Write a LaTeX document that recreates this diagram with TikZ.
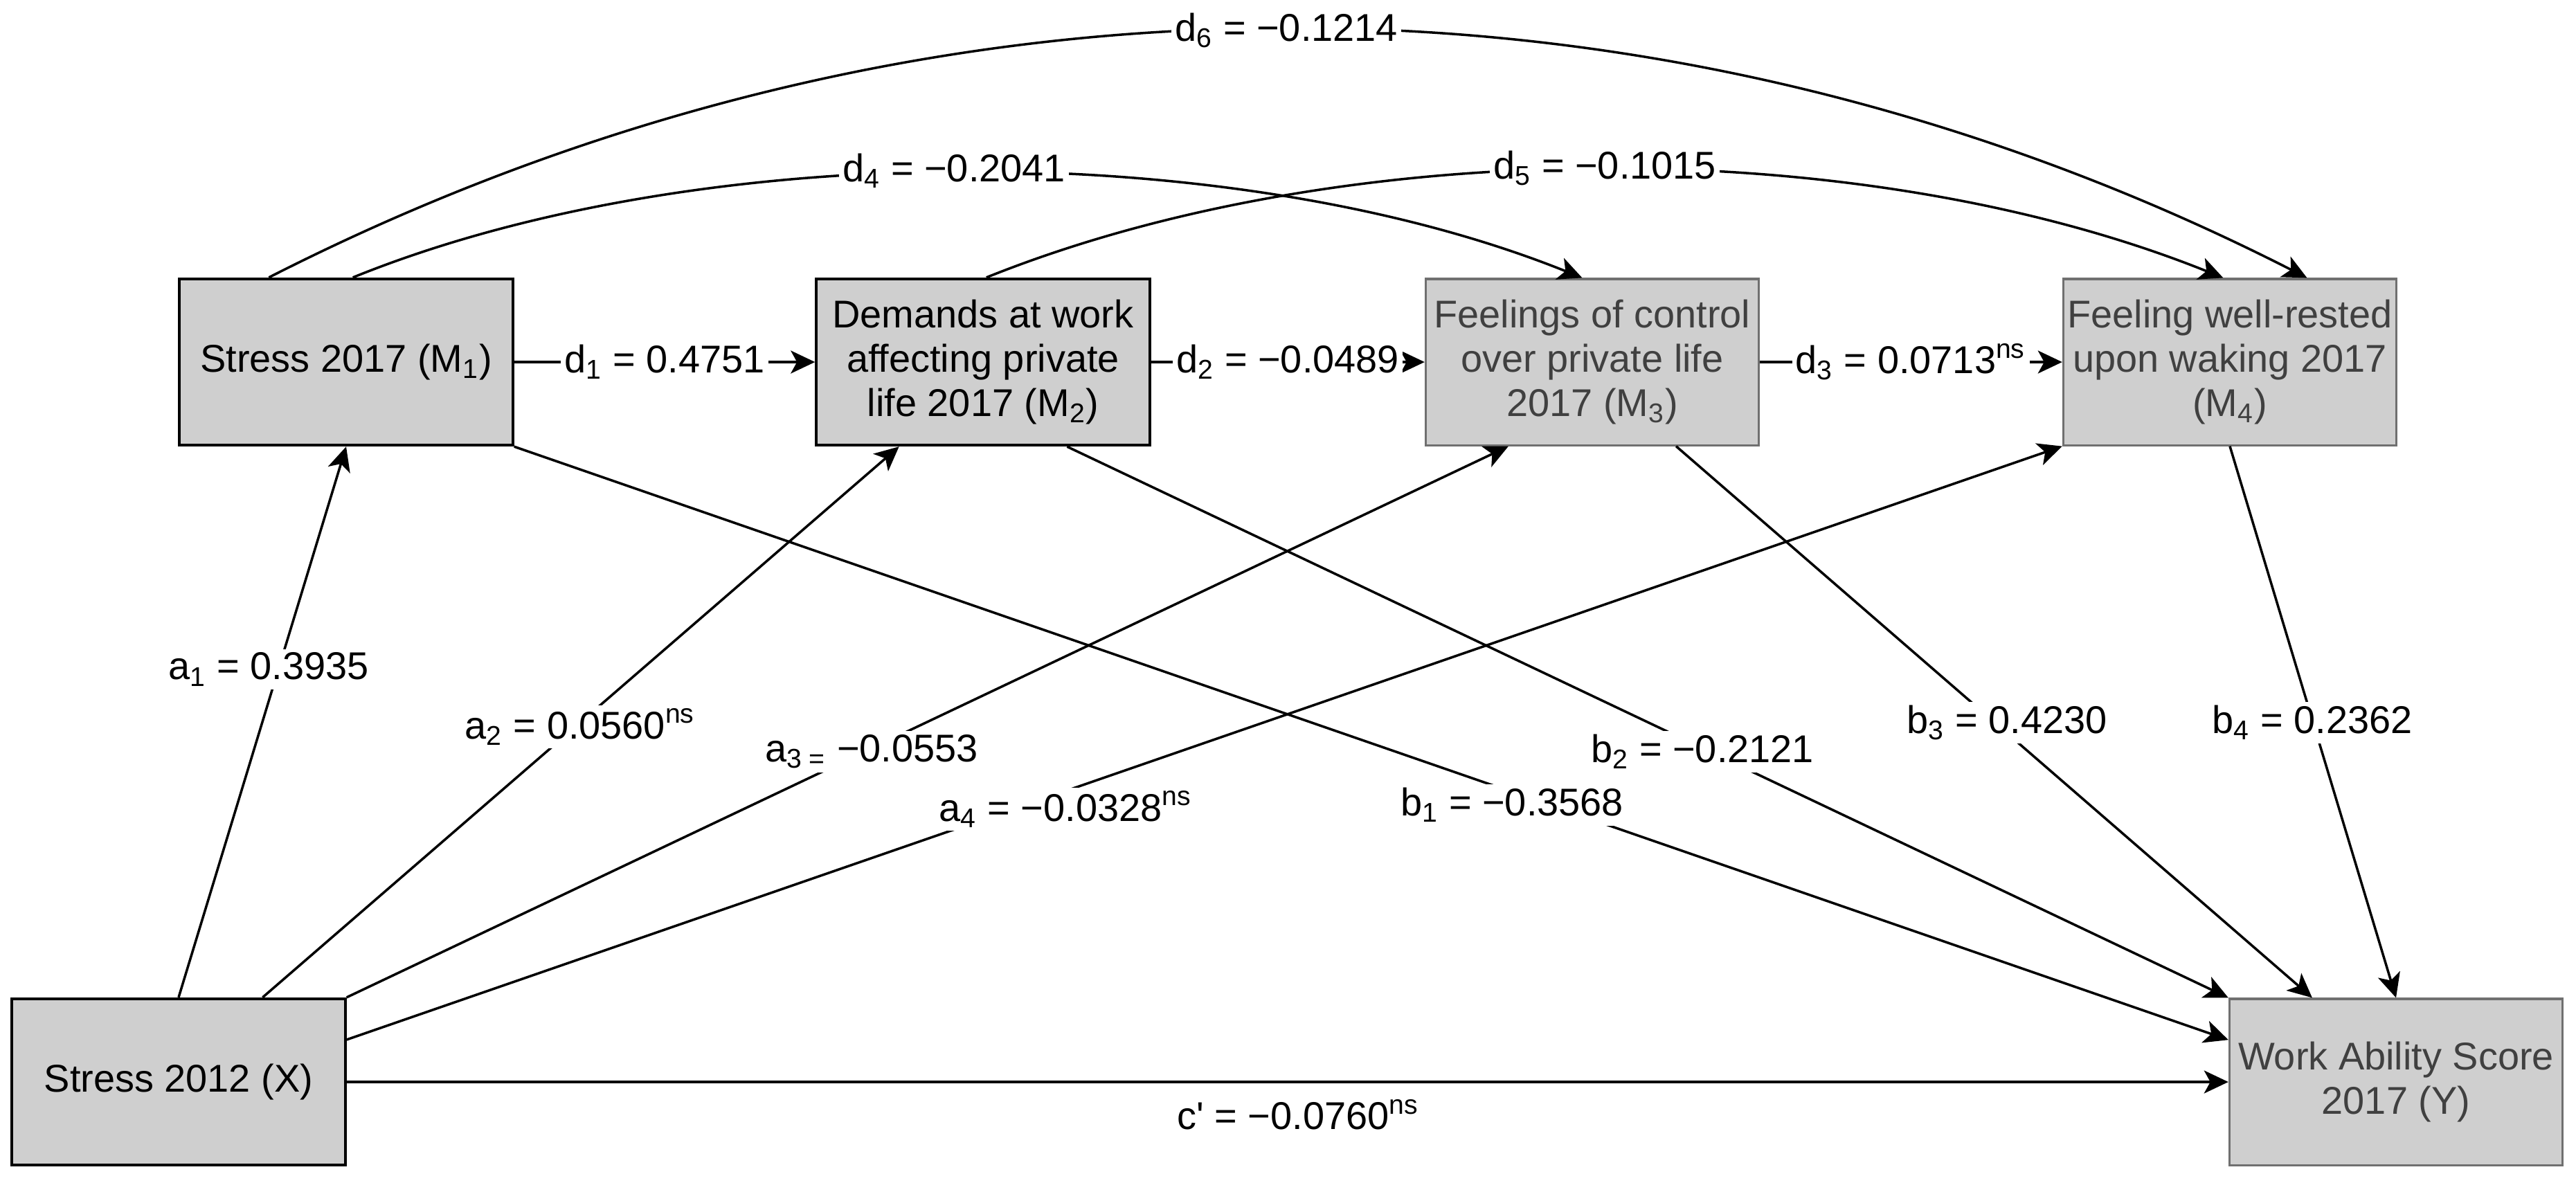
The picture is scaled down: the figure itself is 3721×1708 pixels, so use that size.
\documentclass[tikz,border=0pt]{standalone}
\usepackage{fontspec}
\setmainfont{Liberation Sans}[Ligatures=TeXOff]
\usetikzlibrary{arrows.meta,calc}
\definecolor{boxfill}{HTML}{CFCFCF}
\definecolor{greyline}{HTML}{707070}
\definecolor{greytext}{HTML}{404040}
\begin{document}
\begin{tikzpicture}[x=0.01cm,y=-0.01cm,
  every node/.style={font=\fontsize{15.9pt}{18.3pt}\selectfont},
  blackbox/.style={draw=black, line width=1.2pt, fill=boxfill, minimum width=4.81cm, minimum height=2.40cm, align=center, inner sep=0pt, text=black},
  greybox/.style={blackbox, draw=greyline, text=greytext, line width=0.9pt},
  conn/.style={line width=1pt, -{Stealth[length=3.5mm,width=3.3mm,inset=0.9mm]}},
  lbl/.style={fill=white, inner sep=1.5pt, text=black}]
\useasboundingbox (0,0) rectangle (3721,1708);
\fill[white] (0,0) rectangle (3721,1708);

% boxes
\node[blackbox] (M1) at (500,523) {Stress 2017 (M\textsubscript{1})};
\node[blackbox] (M2) at (1420,523) {Demands at work\\affecting private\\life 2017 (M\textsubscript{2})};
\node[greybox] (M3) at (2300,523) {Feelings of control\\over private life\\2017 (M\textsubscript{3})};
\node[greybox] (M4) at (3221,523) {Feeling well-rested\\upon waking 2017\\(M\textsubscript{4})};
\node[blackbox] (X) at (258,1563) {Stress 2012 (X)};
\node[greybox] (Y) at (3461,1563) {Work Ability Score\\2017 (Y)};

% horizontal paths
\draw[conn] (M1.east) -- (M2.west);
\draw[conn] (M2.east) -- (M3.west);
\draw[conn] (M3.east) -- (M4.west);
\draw[conn] (X.east) -- (Y.west);

% a paths
\draw[conn] (X.north) -- (M1.south);
\draw[conn] ($(X.north west)!0.75!(X.north east)$) -- ($(M2.south west)!0.25!(M2.south east)$);
\draw[conn] (X.north east) -- ($(M3.south west)!0.25!(M3.south east)$);
\draw[conn] ($(X.north east)!0.25!(X.south east)$) -- (M4.south west);

% b paths
\draw[conn] (M1.south east) -- ($(Y.north west)!0.25!(Y.south west)$);
\draw[conn] ($(M2.south west)!0.75!(M2.south east)$) -- (Y.north west);
\draw[conn] ($(M3.south west)!0.75!(M3.south east)$) -- ($(Y.north west)!0.25!(Y.north east)$);
\draw[conn] (M4.south) -- (Y.north);

% curved paths
\draw[conn] ($(M1.north west)!0.27!(M1.north east)$) .. controls +(940,-479) and +(-940,-479) .. ($(M4.north west)!0.73!(M4.north east)$);
\draw[conn] ($(M1.north west)!0.52!(M1.north east)$) .. controls +(500,-203) and +(-505,-203) .. ($(M3.north west)!0.47!(M3.north east)$);
\draw[conn] ($(M2.north west)!0.51!(M2.north east)$) .. controls +(520,-209) and +(-520,-209) .. ($(M4.north west)!0.48!(M4.north east)$);

% labels
\node[lbl] (ld1) at (960,523) {d\textsubscript{1} = 0.4751};
\node[lbl] (ld2) at (1860,523) {d\textsubscript{2} = −0.0489};
\node[lbl] (ld3) at (2760,523) {d\textsubscript{3} = 0.0713\textsuperscript{ns}};
\node[lbl] (ld4) at (1378,247) {d\textsubscript{4} = −0.2041};
\node[lbl] (ld5) at (2318,243) {d\textsubscript{5} = −0.1015};
\node[lbl] (ld6) at (1858,44) {d\textsubscript{6} = −0.1214};
\node[lbl] (la1) at (388,967) {a\textsubscript{1} = 0.3935};
\node[lbl] (la2) at (838,1050) {a\textsubscript{2} = 0.0560\textsuperscript{ns}};
\node[lbl] (la3) at (1259,1086) {a\textsubscript{3 =} −0.0553};
\node[lbl] (la4) at (1539,1169) {a\textsubscript{4} = −0.0328\textsuperscript{ns}};
\node[lbl] (lb1) at (2184,1163) {b\textsubscript{1} = −0.3568};
\node[lbl] (lb2) at (2459,1086) {b\textsubscript{2} = −0.2121};
\node[lbl] (lb3) at (2899,1044) {b\textsubscript{3} = 0.4230};
\node[lbl] (lb4) at (3340,1044) {b\textsubscript{4} = 0.2362};
\node[lbl] (lc) at (1875,1610) {c' = −0.0760\textsuperscript{ns}};
\end{tikzpicture}
\end{document}
